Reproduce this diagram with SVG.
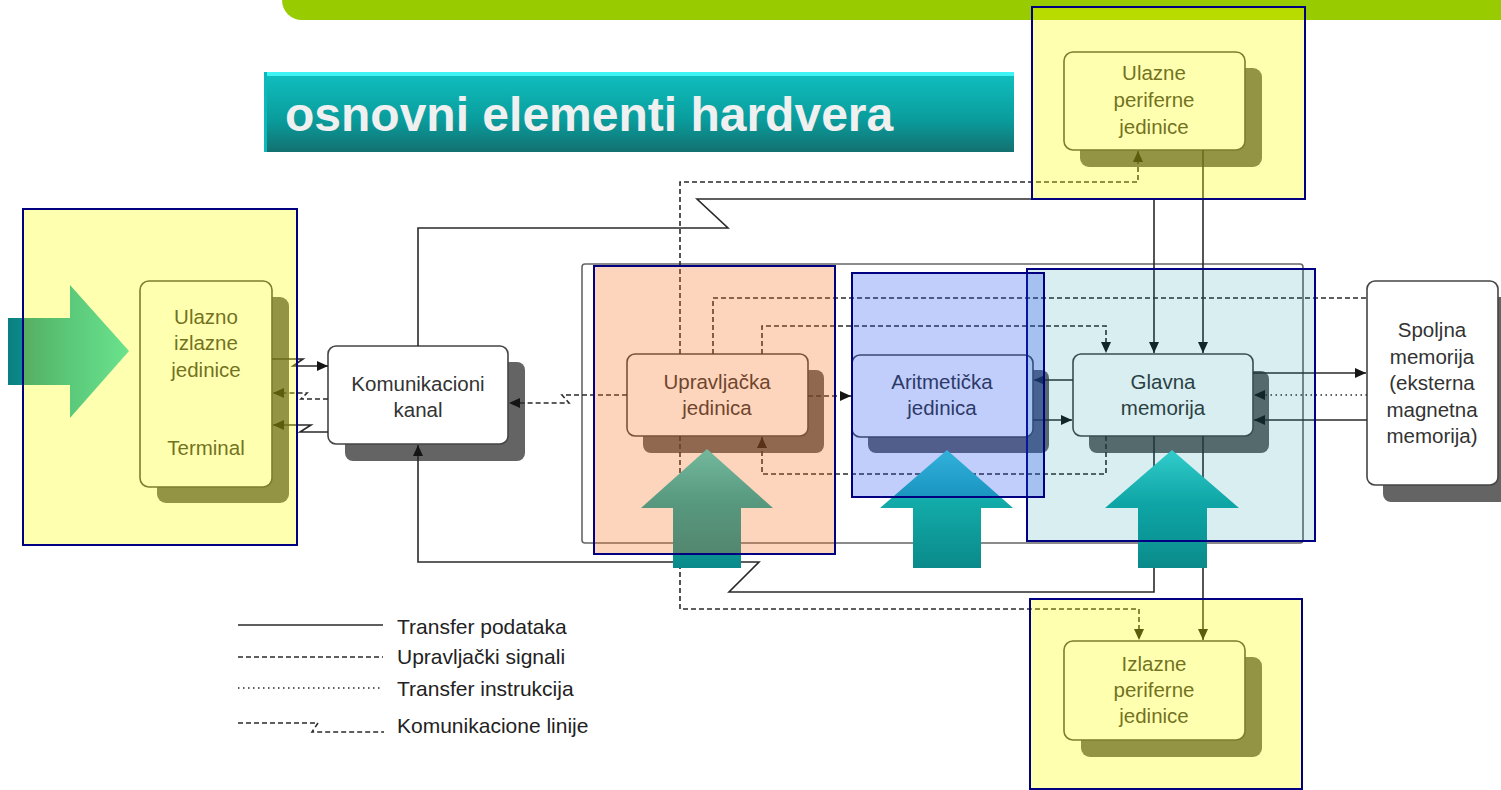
<svg xmlns="http://www.w3.org/2000/svg" width="1501" height="790" viewBox="0 0 1501 790">
<style>
.node{fill:#ffffff;stroke:#444;stroke-width:1.6}
.shadow{fill:#646464}
.lbl{font-family:"Liberation Sans",Arial,sans-serif;font-size:20.5px;fill:#333;text-anchor:middle}
.leg{font-family:"Liberation Sans",Arial,sans-serif;font-size:21px;fill:#222}
.ln{fill:none;stroke:#2a2a2a;stroke-width:1.6}
.dash{stroke-dasharray:5,3}
.dot{stroke-dasharray:1.5,3.5}
.ov{stroke:#000080;stroke-width:2}
</style>
<defs>
<marker id="ah" markerUnits="userSpaceOnUse" markerWidth="12" markerHeight="10" refX="11" refY="5" orient="auto">
<path d="M0,0 L11,5 L0,10 Z" fill="#151515"/>
</marker>
<linearGradient id="upg" x1="0" y1="0" x2="0" y2="1">
<stop offset="0" stop-color="#3ad8d4"/>
<stop offset="0.45" stop-color="#12aaa8"/>
<stop offset="1" stop-color="#0a8a8a"/>
</linearGradient>
<linearGradient id="rg" x1="0" y1="0" x2="1" y2="0">
<stop offset="0" stop-color="#0a7e80"/>
<stop offset="0.5" stop-color="#10b0b0"/>
<stop offset="1" stop-color="#2ad6cc"/>
</linearGradient>
<linearGradient id="tg" x1="0" y1="0" x2="0" y2="1">
<stop offset="0" stop-color="#10c0c0"/>
<stop offset="0.6" stop-color="#0a9c9c"/>
<stop offset="1" stop-color="#137070"/>
</linearGradient>
</defs>

<g id="topbar">
<path d="M282,0 H1501 V20 H302 A20,20 0 0 1 282,0 Z" fill="#99cc00"/>
</g>

<g id="title">
<rect x="264" y="72" width="750" height="80" fill="url(#tg)"/>
<rect x="264" y="72" width="750" height="4" fill="#3ef4f4"/>
<rect x="264" y="72" width="3" height="80" fill="#0fb8b8"/>
<text x="285" y="131" font-family="'Liberation Sans',Arial,sans-serif" font-size="48" font-weight="bold" fill="#f0f0f0">osnovni elementi hardvera</text>
</g>

<rect id="frame" x="582" y="264" width="721" height="279" rx="3" fill="none" stroke="#666" stroke-width="1.6"/>

<g id="n-terminal">
<rect class="shadow" x="157" y="297" width="132" height="206" rx="9"/>
<rect class="node" x="140" y="281" width="132" height="206" rx="9"/>
<text class="lbl" x="206" y="324">Ulazno</text>
<text class="lbl" x="206" y="350">izlazne</text>
<text class="lbl" x="206" y="377">jedinice</text>
<text class="lbl" x="206" y="455">Terminal</text>
</g>

<g id="n-kanal">
<rect class="shadow" x="345" y="362" width="180" height="99" rx="8"/>
<rect class="node" x="328" y="346" width="180" height="98" rx="8"/>
<text class="lbl" x="418" y="391">Komunikacioni</text>
<text class="lbl" x="418" y="417">kanal</text>
</g>

<g id="n-upravljacka">
<rect class="shadow" x="643" y="370" width="181" height="83" rx="8"/>
<rect class="node" x="627" y="354" width="181" height="82" rx="8"/>
<text class="lbl" x="717" y="389">Upravljačka</text>
<text class="lbl" x="717" y="415">jedinica</text>
</g>

<g id="n-aritmeticka">
<rect class="shadow" x="868" y="370" width="181" height="83" rx="8"/>
<rect class="node" x="852" y="355" width="181" height="82" rx="8"/>
<text class="lbl" x="942" y="389">Aritmetička</text>
<text class="lbl" x="942" y="415">jedinica</text>
</g>

<g id="n-glavna">
<rect class="shadow" x="1089" y="371" width="180" height="82" rx="8"/>
<rect class="node" x="1073" y="354" width="180" height="82" rx="8"/>
<text class="lbl" x="1163" y="389">Glavna</text>
<text class="lbl" x="1163" y="415">memorija</text>
</g>

<g id="n-spoljna">
<rect class="shadow" x="1383" y="297" width="130" height="205" rx="8"/>
<rect class="node" x="1367" y="281" width="131" height="204" rx="8"/>
<text class="lbl" x="1432" y="337">Spoljna</text>
<text class="lbl" x="1432" y="364">memorija</text>
<text class="lbl" x="1432" y="390">(eksterna</text>
<text class="lbl" x="1432" y="417">magnetna</text>
<text class="lbl" x="1432" y="443">memorija)</text>
</g>

<g id="n-ulazne">
<rect class="shadow" x="1080" y="68" width="182" height="99" rx="9"/>
<rect class="node" x="1064" y="52" width="181" height="98" rx="9"/>
<text class="lbl" x="1154" y="80">Ulazne</text>
<text class="lbl" x="1154" y="107">periferne</text>
<text class="lbl" x="1154" y="134">jedinice</text>
</g>

<g id="n-izlazne">
<rect class="shadow" x="1081" y="657" width="181" height="100" rx="9"/>
<rect class="node" x="1064" y="641" width="181" height="99" rx="9"/>
<text class="lbl" x="1154" y="671">Izlazne</text>
<text class="lbl" x="1154" y="697">periferne</text>
<text class="lbl" x="1154" y="723">jedinice</text>
</g>

<g id="connectors">
<path class="ln" d="M272,359 H303 L293,366 H328" marker-end="url(#ah)"/>
<path class="ln dash" d="M328,399 H301 L307,393 H273" marker-end="url(#ah)"/>
<path class="ln" d="M328,432 H300 L311,425 H273" marker-end="url(#ah)"/>
<path class="ln" d="M418,346 V228 H728 L697,199 H1154 V353" marker-end="url(#ah)"/>
<path class="ln" d="M1154,436 V592 H729 L759,562 H418 V445" marker-end="url(#ah)"/>
<path class="ln dash" d="M627,395 H562 L569,403 H509" marker-end="url(#ah)"/>
<path class="ln dash" d="M680,354 V182 H1138 V151" marker-end="url(#ah)"/>
<path class="ln dash" d="M680,436 V609 H1139 V640" marker-end="url(#ah)"/>
<path class="ln dash" d="M713,354 V298 H1367"/>
<path class="ln dash" d="M762,354 V326 H1106 V353" marker-end="url(#ah)"/>
<path class="ln dash" d="M1106,436 V474 H762 V437" marker-end="url(#ah)"/>
<path class="ln dash" d="M808,396 H851" marker-end="url(#ah)"/>
<path class="ln" d="M1203,150 V353" marker-end="url(#ah)"/>
<path class="ln" d="M1203,436 V640" marker-end="url(#ah)"/>
<path class="ln" d="M1073,380 H1034" marker-end="url(#ah)"/>
<path class="ln" d="M1033,420 H1072" marker-end="url(#ah)"/>
<path class="ln" d="M1253,373 H1366" marker-end="url(#ah)"/>
<path class="ln" d="M1367,420 H1254" marker-end="url(#ah)"/>
<path class="ln dot" d="M1367,395 H1254" marker-end="url(#ah)"/>
</g>

<g id="big-arrows">
<polygon points="8,318 70,318 70,285 129,351 70,418 70,385 8,385" fill="url(#rg)"/>
<polygon points="707,449 773,508 741,508 741,568 673,568 673,508 641,508" fill="url(#upg)"/>
<polygon points="947,450 1013,508 981,508 981,568 913,568 913,508 880,508" fill="url(#upg)"/>
<polygon points="1172,450 1239,508 1207,508 1207,568 1138,568 1138,508 1105,508" fill="url(#upg)"/>
</g>

<g id="overlays">
<rect class="ov" x="23" y="209" width="274" height="336" fill="#ffff00" fill-opacity="0.31"/>
<rect class="ov" x="1032" y="7" width="273" height="192" fill="#ffff00" fill-opacity="0.31"/>
<rect class="ov" x="1030" y="599" width="272" height="190" fill="#ffff00" fill-opacity="0.31"/>
<rect class="ov" x="594" y="266" width="241" height="288" fill="#f87020" fill-opacity="0.3"/>
<rect class="ov" x="1027" y="269" width="288" height="272" fill="#008b9b" fill-opacity="0.15"/>
<rect class="ov" x="852" y="273" width="192" height="224" fill="#2050f0" fill-opacity="0.28"/>
</g>

<g id="legend">
<line class="ln" x1="238" y1="625" x2="383" y2="625"/>
<line class="ln dash" x1="238" y1="657" x2="383" y2="657"/>
<line class="ln dot" x1="238" y1="688" x2="383" y2="688" stroke="#666"/>
<path class="ln dash" d="M238,723 H318 L312,732 H384"/>
<text class="leg" x="397" y="634">Transfer podataka</text>
<text class="leg" x="397" y="664">Upravljački signali</text>
<text class="leg" x="397" y="696">Transfer instrukcija</text>
<text class="leg" x="397" y="733">Komunikacione linije</text>
</g>
</svg>
